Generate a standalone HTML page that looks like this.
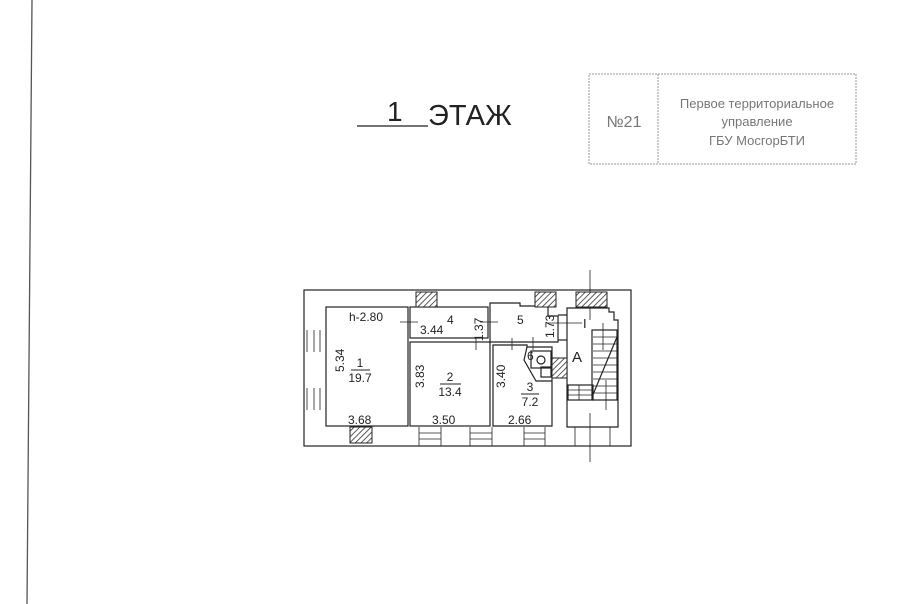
<!DOCTYPE html>
<html><head><meta charset="utf-8"><style>
html,body{margin:0;padding:0;background:#fff;width:900px;height:604px;overflow:hidden}
svg{display:block}
</style></head><body>
<svg width="900" height="604" viewBox="0 0 900 604" xmlns="http://www.w3.org/2000/svg" font-family="Liberation Sans, sans-serif">
<defs>
<pattern id="h" width="4" height="4" patternUnits="userSpaceOnUse" patternTransform="rotate(45)">
<rect width="4" height="4" fill="#fff"/><line x1="0" y1="0" x2="0" y2="4" stroke="#333" stroke-width="1.6"/></pattern>
</defs>
<line x1="32" y1="0" x2="27" y2="604" stroke="#555" stroke-width="1.3"/>
<line x1="357" y1="126" x2="428" y2="126" stroke="#222" stroke-width="1.3"/>
<text x="387" y="121" font-size="28" fill="#222">1</text>
<text x="428" y="125" font-size="29" fill="#222">ЭТАЖ</text>
<g stroke="#999" stroke-width="1" fill="none" stroke-dasharray="2,1">
<rect x="589" y="74" width="267" height="90"/>
<line x1="658" y1="74" x2="658" y2="164"/>
</g>
<g fill="#777" font-size="13" text-anchor="middle">
<text x="624" y="127" font-size="16">№21</text>
<text x="757" y="108">Первое территориальное</text>
<text x="757" y="126">управление</text>
<text x="757" y="145">ГБУ МосгорБТИ</text>
</g>
<g stroke="#222" stroke-width="1.2" fill="none">
<rect x="304" y="290" width="327" height="156"/>
<rect x="326" y="307" width="82" height="119"/>
<rect x="410" y="307" width="78" height="31"/>
<rect x="410" y="342" width="80" height="84"/>
<path d="M490 303 H520 V306 H548 V316 H558 V342 H490 Z"/>
<path d="M493 345 H527 V347 H552 V426 H493 Z"/>
<path d="M567 308 H609 V312 H614 V320 H618 V427 H567 Z"/>
<path d="M527 347 L524 360 L536 381 H552" />
<rect x="531" y="351" width="20" height="17"/>
<circle cx="541" cy="360" r="4"/>
<rect x="541" y="367" width="10" height="10"/>
<line x1="558" y1="315" x2="567" y2="315"/><line x1="558" y1="340" x2="567" y2="340"/>
<rect x="592" y="330" width="25" height="70"/>
<rect x="568" y="385" width="25" height="15"/>
<line x1="592" y1="397" x2="617" y2="337"/>
</g>
<g stroke="#222" stroke-width="0.8">
<line x1="593" y1="337" x2="617" y2="337"/><line x1="593" y1="344" x2="617" y2="344"/>
<line x1="593" y1="351" x2="617" y2="351"/><line x1="593" y1="358" x2="617" y2="358"/>
<line x1="593" y1="365" x2="617" y2="365"/><line x1="593" y1="372" x2="617" y2="372"/>
<line x1="593" y1="379" x2="617" y2="379"/><line x1="593" y1="386" x2="617" y2="386"/>
<line x1="593" y1="393" x2="617" y2="393"/>
<line x1="568" y1="390" x2="592" y2="390"/><line x1="568" y1="395" x2="592" y2="395"/>
<line x1="603" y1="323" x2="603" y2="350"/><line x1="606" y1="380" x2="606" y2="410"/>
<line x1="579" y1="385" x2="579" y2="400"/>
<line x1="590" y1="270" x2="590" y2="320"/><line x1="590" y1="413" x2="590" y2="462"/>
<line x1="307" y1="330" x2="307" y2="352"/><line x1="314" y1="330" x2="314" y2="352"/><line x1="320" y1="330" x2="320" y2="352"/>
<line x1="307" y1="388" x2="307" y2="410"/><line x1="314" y1="388" x2="314" y2="410"/><line x1="320" y1="388" x2="320" y2="410"/>
<line x1="419" y1="427" x2="419" y2="446"/><line x1="441" y1="427" x2="441" y2="446"/>
<line x1="419" y1="433" x2="441" y2="433"/><line x1="419" y1="439" x2="441" y2="439"/>
<line x1="470" y1="427" x2="470" y2="446"/><line x1="492" y1="427" x2="492" y2="446"/>
<line x1="470" y1="433" x2="492" y2="433"/><line x1="470" y1="439" x2="492" y2="439"/>
<line x1="524" y1="427" x2="524" y2="446"/><line x1="545" y1="427" x2="545" y2="446"/>
<line x1="524" y1="433" x2="545" y2="433"/><line x1="524" y1="439" x2="545" y2="439"/>
<line x1="575" y1="427" x2="575" y2="446"/><line x1="610" y1="427" x2="610" y2="446"/>
<line x1="400" y1="322" x2="418" y2="322"/><line x1="408" y1="314" x2="408" y2="330"/>
<line x1="480" y1="322" x2="498" y2="322"/><line x1="490" y1="314" x2="490" y2="330"/>
<line x1="476" y1="340" x2="476" y2="350"/><line x1="512" y1="338" x2="512" y2="350"/>
<line x1="533" y1="337" x2="533" y2="350"/>
<line x1="548" y1="323" x2="582" y2="323"/>
</g>
<g fill="url(#h)" stroke="#222" stroke-width="1">
<rect x="416" y="292" width="21" height="15"/>
<rect x="535" y="292" width="21" height="15"/>
<rect x="576" y="292" width="31" height="15"/>
<rect x="350" y="427" width="22" height="16"/>
<rect x="552" y="358" width="15" height="20"/>
</g>
<g fill="#222" font-size="12">
<text x="349" y="321">h-2.80</text>
<text x="420" y="334">3.44</text>
<text x="447" y="324">4</text>
<text x="517" y="324">5</text>
<text x="527" y="360">6</text>
<text x="583" y="328" font-size="13">I</text>
<text x="572" y="362" font-size="15">A</text>
<text x="360" y="367" text-anchor="middle">1</text>
<text x="360" y="382" text-anchor="middle">19.7</text>
<line x1="351" y1="370" x2="370" y2="370" stroke="#222"/>
<text x="450" y="381" text-anchor="middle">2</text>
<text x="450" y="396" text-anchor="middle">13.4</text>
<line x1="440" y1="384" x2="461" y2="384" stroke="#222"/>
<text x="530" y="391" text-anchor="middle">3</text>
<text x="530" y="406" text-anchor="middle">7.2</text>
<line x1="521" y1="394" x2="539" y2="394" stroke="#222"/>
<text x="348" y="424">3.68</text>
<text x="432" y="424">3.50</text>
<text x="508" y="424">2.66</text>
<text transform="translate(344,372) rotate(-90)">5.34</text>
<text transform="translate(424,388) rotate(-90)">3.83</text>
<text transform="translate(505,388) rotate(-90)">3.40</text>
<text transform="translate(483,341) rotate(-90)">1.37</text>
<text transform="translate(554,338) rotate(-90)">1.73</text>
</g>
</svg>
</body></html>
